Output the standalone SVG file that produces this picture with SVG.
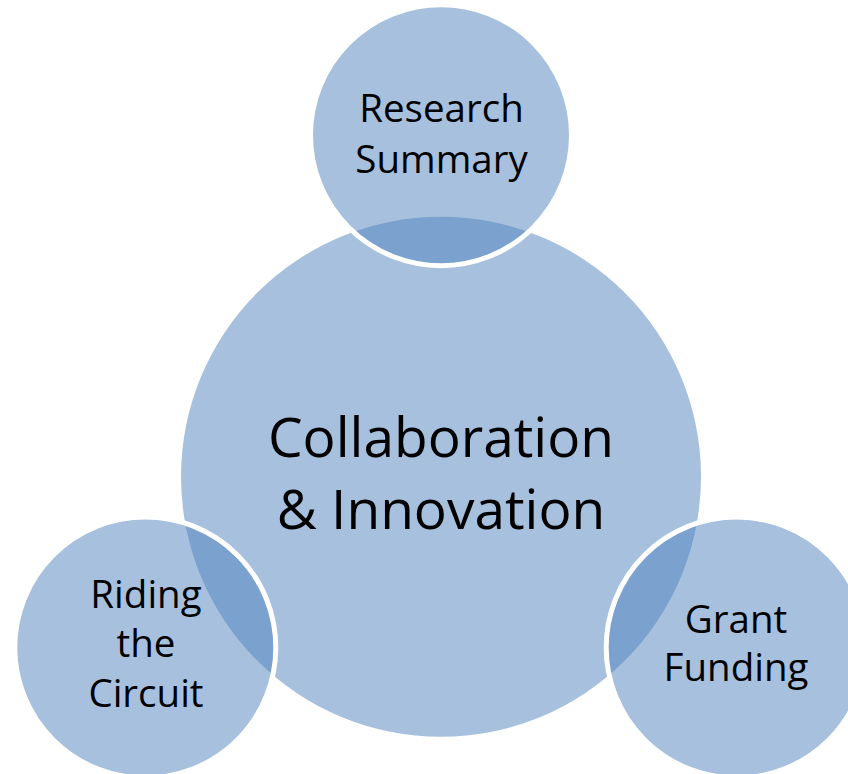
<svg xmlns="http://www.w3.org/2000/svg" width="848" height="774" viewBox="0 0 848 774">
<style>
  .bg { fill: #ffffff; }
  .big { fill: #4F81BD; fill-opacity: 0.5; }
  .small { fill: #4F81BD; fill-opacity: 0.5; stroke: #ffffff; stroke-width: 5; }
  .lbl { font-family: "Open Sans", "Noto Sans", sans-serif; fill: #000000; text-anchor: middle; }
  .main { font-size: 55px; }
  .sub { font-size: 38.5px; }
</style>
<rect class="bg" x="0" y="0" width="848" height="774"/>
<g id="connectors"></g>
<g id="node-center">
  <circle class="big" cx="441" cy="476.7" r="260"/>
</g>
<g id="node-research">
  <circle class="small" cx="441" cy="135.2" r="130.5"/>
</g>
<g id="node-riding">
  <circle class="small" cx="145.3" cy="647.5" r="130.5"/>
</g>
<g id="node-grant">
  <circle class="small" cx="736.7" cy="647.5" r="130.5"/>
</g>
<g id="labels">
  <text class="lbl main" x="441" y="457">Collaboration</text>
  <text class="lbl main" x="441" y="529">&amp; Innovation</text>
  <text class="lbl sub" x="441.5" y="122">Research</text>
  <text class="lbl sub" x="441.5" y="173">Summary</text>
  <text class="lbl sub" x="146" y="608">Riding</text>
  <text class="lbl sub" x="146" y="657">the</text>
  <text class="lbl sub" x="146" y="707">Circuit</text>
  <text class="lbl sub" x="736" y="633">Grant</text>
  <text class="lbl sub" x="736" y="681">Funding</text>
</g>
</svg>
